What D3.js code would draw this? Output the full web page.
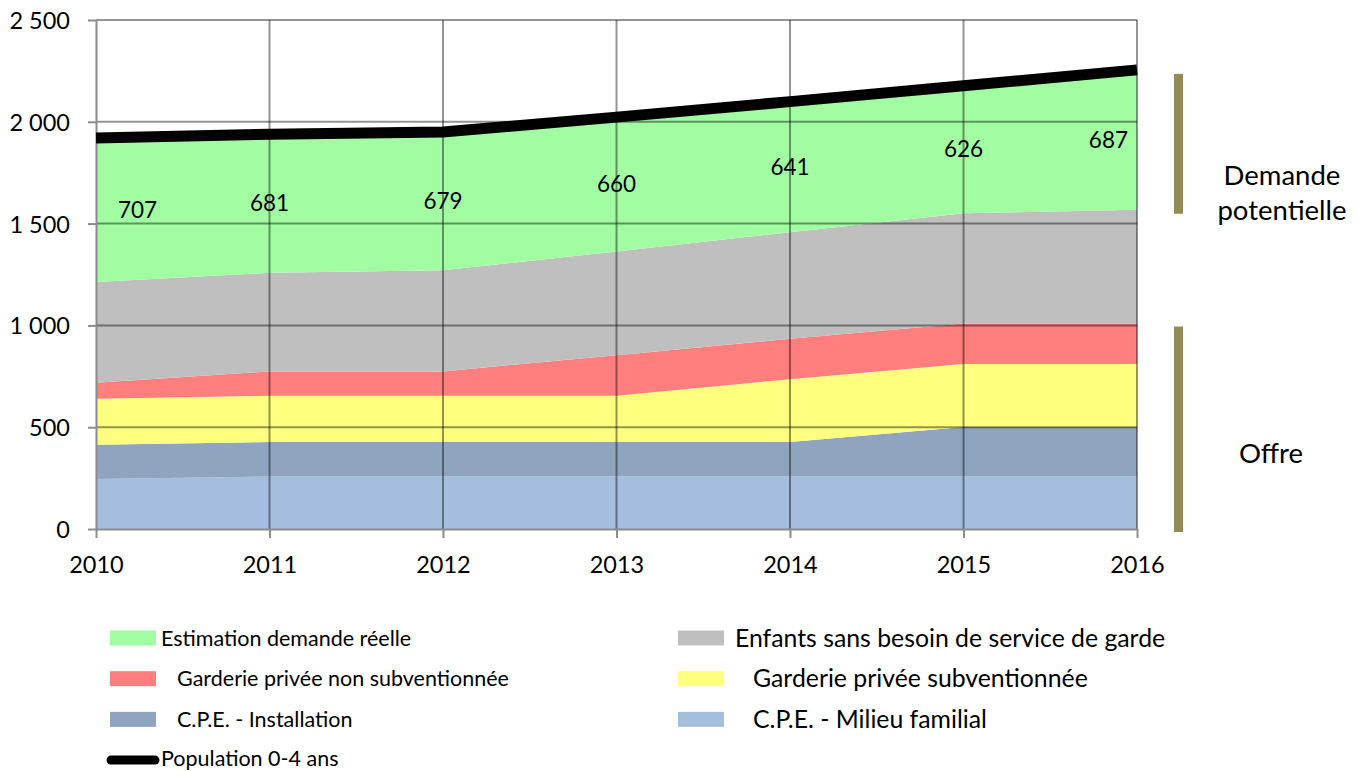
<!DOCTYPE html>
<meta charset="utf-8">
<style>
    body { margin: 0; background: #fff; }
    svg { font-family: Lato, "Open Sans", sans-serif; font-size: 21.5px; }
    text { fill: #000; }
    .axis path, .axis line { stroke: #8c8c8c; stroke-width: 2; }
    .axis text { font-size: 23.5px; }
    .grid line { stroke: #000; stroke-opacity: 0.42; stroke-width: 2; }
    .lbl { font-size: 22.5px; }
    .note { font-size: 27.5px; }
    .leg1 { font-size: 24.8px; }
</style>
<body>
<script src="https://d3js.org/d3.v7.min.js"></script>
<script>
    var years = [2010, 2011, 2012, 2013, 2014, 2015, 2016];
    var milieuFamilial = [245, 258, 258, 258, 258, 258, 258];
    var installation = [169, 169, 169, 169, 169, 243, 243];
    var garderieSub = [226, 227, 227, 227, 309, 310, 310];
    var garderieNonSub = [78, 120, 120, 200, 198, 198, 198];
    var sansBesoin = [495, 484, 497, 509, 524, 542, 559];
    var demandeReelle = [707, 681, 679, 660, 641, 626, 687];
    var population = [1920, 1939, 1950, 2023, 2099, 2177, 2255];
    var yTicks = [0, 500, 1000, 1500, 2000, 2500];

    // stack order, bottom to top
    var series = [
        {key: "milieu", label: "C.P.E. - Milieu familial", values: milieuFamilial, color: "#a6bedd"},
        {key: "install", label: "C.P.E. - Installation", values: installation, color: "#8ea4bf"},
        {key: "sub", label: "Garderie privée subventionnée", values: garderieSub, color: "#ffff7f"},
        {key: "nonsub", label: "Garderie privée non subventionnée", values: garderieNonSub, color: "#ff7f7f"},
        {key: "sans", label: "Enfants sans besoin de service de garde", values: sansBesoin, color: "#bfbfbf"},
        {key: "demande", label: "Estimation demande réelle", values: demandeReelle, color: "#a2fca2"}
    ];

    var margin = {top: 20, left: 96},
        width = 1041, height = 509;

    var rows = years.map(function(yr, i) {
        var r = {year: yr};
        series.forEach(function(s) { r[s.key] = s.values[i]; });
        return r;
    });
    var stack = d3.stack().keys(series.map(function(s) { return s.key; }));
    var layers = stack(rows);

    var x = d3.scaleLinear().domain([2010, 2016]).range([0, width]);
    var y = d3.scaleLinear().domain([0, 2500]).range([height, 0]);

    var fr = d3.formatLocale({decimal: ",", thousands: " ", grouping: [3], currency: ["", ""]});
    var fmt = fr.format(",d");

    var svg = d3.select("body").append("svg")
        .attr("width", 1359)
        .attr("height", 771);
    var g = svg.append("g")
        .attr("transform", "translate(" + margin.left + "," + margin.top + ")");

    var area = d3.area()
        .x(function(d) { return x(d.data.year); })
        .y0(function(d) { return y(d[0]); })
        .y1(function(d) { return y(d[1]); });

    g.selectAll("path.layer")
        .data(layers)
        .enter().append("path")
        .attr("class", "layer")
        .attr("d", area)
        .attr("fill", function(d, i) { return series[i].color; });

    // gridlines over the areas, like the original
    var grid = g.append("g").attr("class", "grid");
    grid.selectAll("line.h").data(yTicks.slice(1)).enter().append("line")
        .attr("x1", 0).attr("x2", width)
        .attr("y1", function(d) { return y(d); }).attr("y2", function(d) { return y(d); });
    grid.selectAll("line.v").data(years.slice(1)).enter().append("line")
        .attr("y1", 0).attr("y2", height)
        .attr("x1", function(d) { return x(d); }).attr("x2", function(d) { return x(d); });

    var yAxis = d3.axisLeft(y).tickValues(yTicks).tickFormat(fmt).tickSize(8).tickPadding(18).tickSizeOuter(0);
    var gy = g.append("g").attr("class", "axis").call(yAxis);
    gy.selectAll("text").attr("dy", "0.36em");

    var xAxis = d3.axisBottom(x).tickValues(years).tickFormat(d3.format("d")).tickSize(9).tickSizeOuter(0);
    var gx = g.append("g").attr("class", "axis")
        .attr("transform", "translate(0," + height + ")")
        .call(xAxis);
    gx.selectAll("text").attr("y", 44).attr("dy", null);
    svg.selectAll(".axis").attr("font-family", null).attr("font-size", null);
    svg.selectAll(".axis text").attr("fill", "#000");

    // population line
    var line = d3.line()
        .x(function(d, i) { return x(years[i]); })
        .y(function(d) { return y(d); });
    g.append("path")
        .datum(population)
        .attr("d", line)
        .attr("fill", "none")
        .attr("stroke", "#000")
        .attr("stroke-width", 11);

    // data labels for the top layer
    var topLayer = layers[layers.length - 1];
    var nPts = topLayer.length;
    g.selectAll("text.lbl")
        .data(topLayer)
        .enter().append("text")
        .attr("class", "lbl")
        .attr("x", function(d, i) {
            if (i === 0) return x(d.data.year) + 22;
            if (i === nPts - 1) return x(d.data.year) - 9;
            return x(d.data.year);
        })
        .attr("y", function(d) { return y((d[0] + d[1]) / 2); })
        .attr("dy", "0.35em")
        .attr("text-anchor", function(d, i) {
            if (i === 0) return "start";
            if (i === nPts - 1) return "end";
            return "middle";
        })
        .text(function(d) { return d.data.demande; });

    // right-side brackets
    var last = years.length - 1;
    var offreTop = layers[3][last][1];
    var demLow = layers[4][last][1], demHigh = population[last];
    var bx = width + 37;
    g.append("rect")
        .attr("x", bx).attr("width", 9)
        .attr("y", y(demHigh) + 4).attr("height", y(demLow) - y(demHigh))
        .attr("fill", "#948a54");
    g.append("rect")
        .attr("x", bx).attr("width", 9)
        .attr("y", y(offreTop) + 3).attr("height", y(0) - y(offreTop))
        .attr("fill", "#948a54");
    svg.append("text").attr("class", "note").attr("x", 1282).attr("y", 185).attr("text-anchor", "middle").text("Demande");
    svg.append("text").attr("class", "note").attr("x", 1282).attr("y", 220).attr("text-anchor", "middle").text("potentielle");
    svg.append("text").attr("class", "note").attr("x", 1271).attr("y", 463).attr("text-anchor", "middle").text("Offre");

    // legend
    var legendItems = [
        {s: series[5], col: 0, row: 0, tx: 161},
        {s: series[4], col: 1, row: 0, tx: 735},
        {s: series[3], col: 0, row: 1, tx: 177},
        {s: series[2], col: 1, row: 1, tx: 753},
        {s: series[1], col: 0, row: 2, tx: 177},
        {s: series[0], col: 1, row: 2, tx: 753}
    ];
    var colX = [110, 678], rowY0 = 638, rowStep = 40.7;
    var leg = svg.append("g");
    legendItems.forEach(function(it) {
        var lx = colX[it.col], ly = rowY0 + it.row * rowStep;
        leg.append("rect").attr("x", lx).attr("y", ly - 7.5).attr("width", 46).attr("height", 15)
            .attr("fill", it.s.color);
        leg.append("text").attr("class", it.col === 1 ? "leg1" : null)
            .attr("x", it.tx).attr("y", ly).attr("dy", "0.35em").text(it.s.label);
    });
    var ly4 = rowY0 + 3 * rowStep;
    leg.append("line").attr("x1", 111).attr("x2", 155).attr("y1", ly4).attr("y2", ly4)
        .attr("stroke", "#000").attr("stroke-width", 9).attr("stroke-linecap", "round");
    leg.append("text").attr("x", 161).attr("y", 766).text("Population 0-4 ans");
</script>
